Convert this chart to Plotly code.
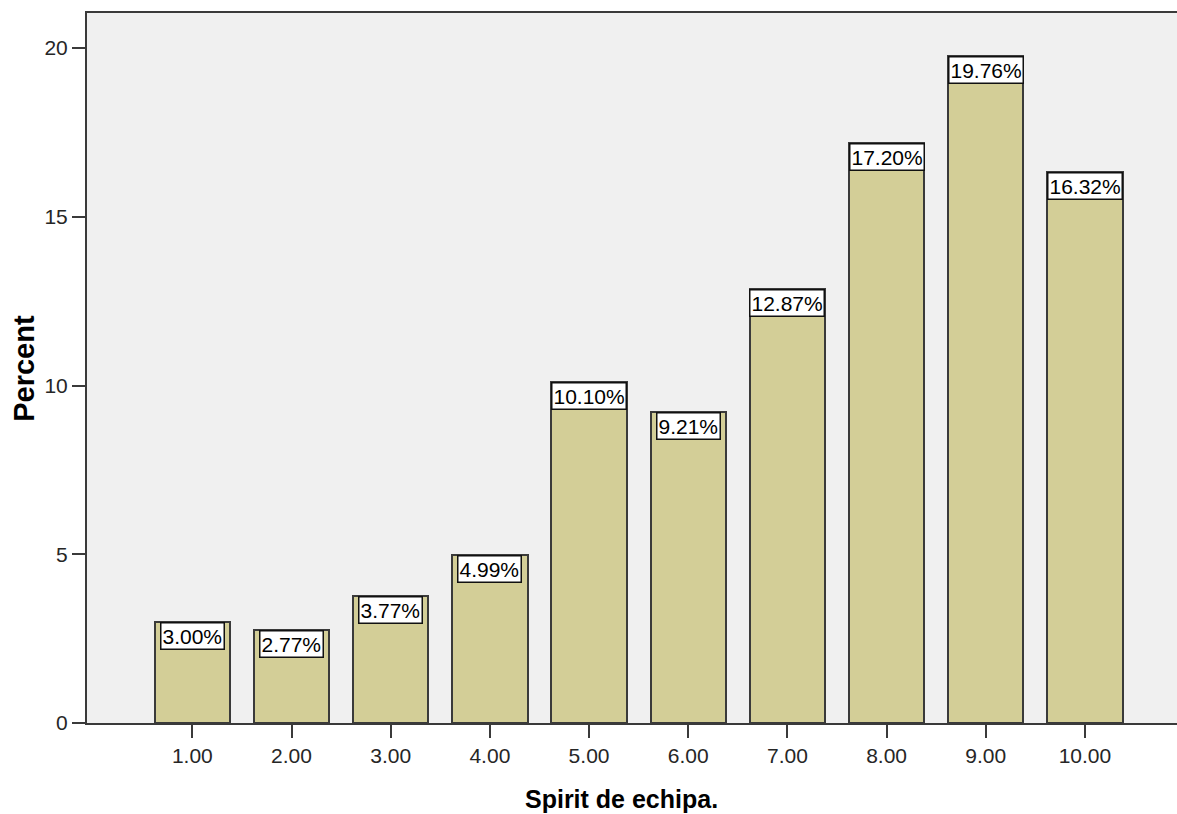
import plotly.graph_objects as go

# Frequency distribution of "Spirit de echipa." (percent of respondents)
categories = [1, 2, 3, 4, 5, 6, 7, 8, 9, 10]
tick_labels = ["1.00", "2.00", "3.00", "4.00", "5.00",
               "6.00", "7.00", "8.00", "9.00", "10.00"]
percents = [3.00, 2.77, 3.77, 4.99, 10.10, 9.21, 12.87, 17.20, 19.76, 16.32]

FONT = "Liberation Sans, Arial, sans-serif"
LINE = "#3a3a3a"
TICK_COLOR = "#262626"

fig = go.Figure()
fig.add_trace(go.Bar(
    x=categories,
    y=percents,
    width=0.76,
    marker=dict(color="#D3CE97", line=dict(color=LINE, width=2)),
    hoverinfo="x+y",
))

# Value labels in white boxes hanging from the top of each bar
for c, p in zip(categories, percents):
    fig.add_annotation(
        x=c, y=p, xref="x", yref="y",
        text=f"{p:.2f}%",
        showarrow=False,
        xanchor="center", yanchor="top",
        font=dict(family=FONT, size=21, color="black"),
        bgcolor="white",
        bordercolor="#111111",
        borderwidth=1.5,
        borderpad=1,
    )

# Axis titles
fig.add_annotation(
    text="<b>Percent</b>", xref="paper", yref="paper",
    x=-0.058, y=0.5, xanchor="center", yanchor="middle",
    textangle=-90, showarrow=False,
    font=dict(family=FONT, size=29, color="black"),
)
fig.add_annotation(
    text="<b>Spirit de echipa.</b>", xref="paper", yref="paper",
    x=0.49, y=-0.085, xanchor="center", yanchor="top",
    showarrow=False,
    font=dict(family=FONT, size=25, color="black"),
)

fig.update_layout(
    width=1177, height=814,
    margin=dict(l=87, r=0, t=13, b=91),
    paper_bgcolor="white",
    plot_bgcolor="#F0F0F0",
    showlegend=False,
    bargap=0,
    font=dict(family=FONT, size=21, color=TICK_COLOR),
)
fig.update_xaxes(
    range=[-0.062, 10.928],
    tickmode="array", tickvals=categories, ticktext=tick_labels,
    ticks="outside", ticklen=13, tickwidth=2, tickcolor=LINE,
    showline=True, linecolor=LINE, linewidth=2, mirror=True,
    showgrid=False, zeroline=False,
    tickfont=dict(family=FONT, size=21, color=TICK_COLOR),
)
fig.update_yaxes(
    range=[0, 21.04],
    tickmode="array", tickvals=[0, 5, 10, 15, 20],
    ticks="outside", ticklen=13, tickwidth=2, tickcolor=LINE,
    showline=True, linecolor=LINE, linewidth=2,
    showgrid=False, zeroline=False,
    tickfont=dict(family=FONT, size=21, color=TICK_COLOR),
)

fig.write_html("out.html")
